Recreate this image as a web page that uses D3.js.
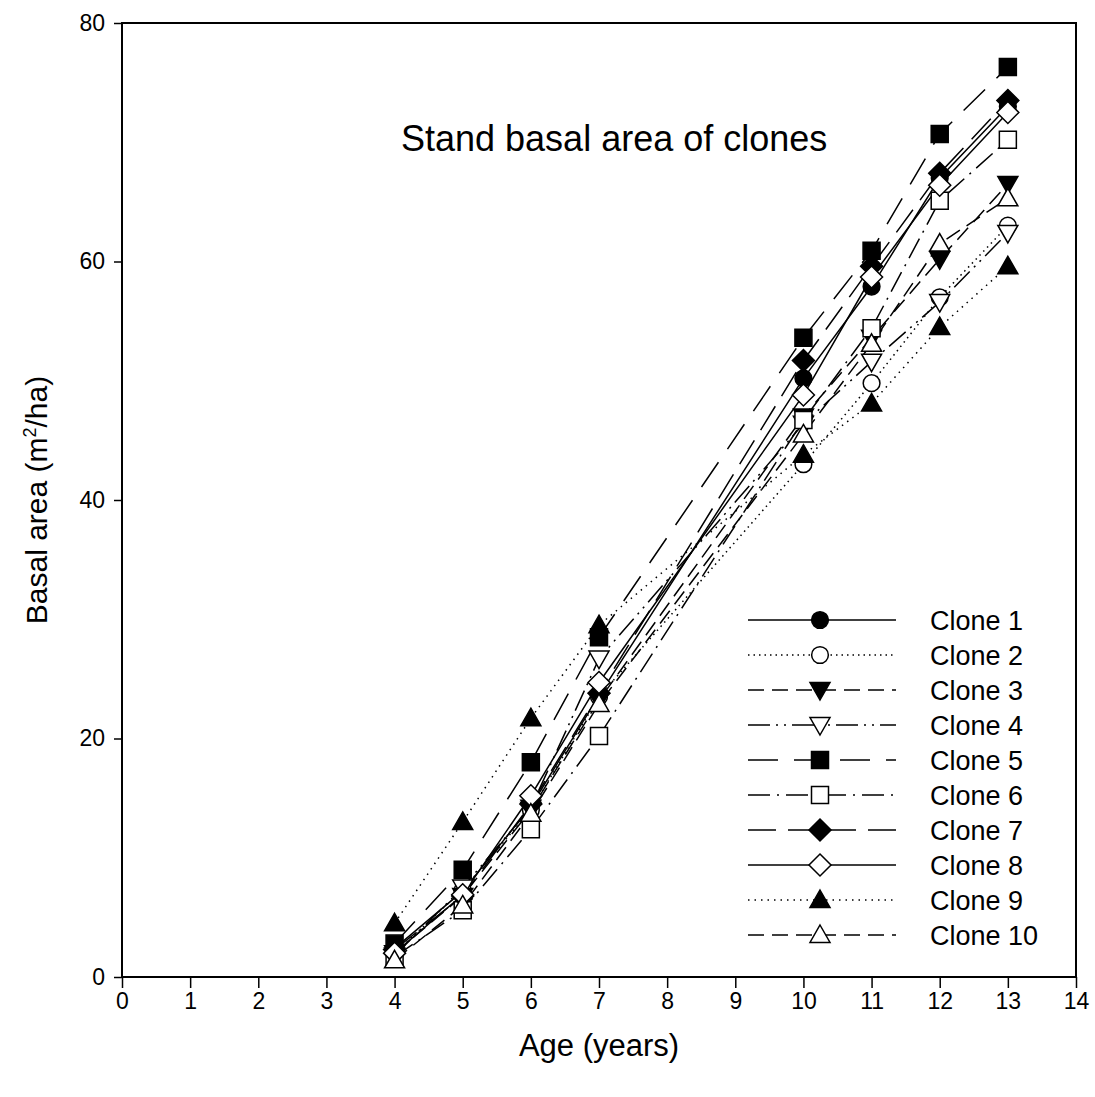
<!DOCTYPE html>
<html>
<head>
<meta charset="utf-8">
<script src="https://cdn.jsdelivr.net/npm/d3@7"></script>
<style>
  body { margin: 0; background: #fff; }
  text { font-family: Arial, "Liberation Sans", sans-serif; fill: #000; }
</style>
</head>
<body>
<div id="container"></div>
<script>
// Data
const ages = [4, 5, 6, 7, 10, 11, 12, 13];
const clone1  = [2.4, 7.2, 14.3, 23.6, 50.2, 57.9, 67.0, 73.0];
const clone2  = [2.0, 7.3, 14.0, 23.5, 43.0, 49.8, 57.0, 63.0];
const clone3  = [2.0, 6.8, 14.0, 23.2, 47.0, 53.6, 60.2, 66.5];
const clone4  = [1.8, 7.5, 14.2, 26.7, 46.4, 51.6, 56.6, 62.4];
const clone5  = [2.8, 9.0, 18.0, 28.5, 53.6, 60.9, 70.7, 76.3];
const clone6  = [1.7, 5.6, 12.4, 20.2, 46.7, 54.4, 65.1, 70.2];
const clone7  = [2.3, 6.8, 14.5, 23.8, 51.7, 59.6, 67.4, 73.5];
const clone8  = [2.0, 6.9, 15.2, 24.7, 48.8, 58.7, 66.4, 72.5];
const clone9  = [4.5, 13.0, 21.7, 29.5, 43.8, 48.1, 54.5, 59.6];
const clone10 = [1.4, 6.0, 13.7, 22.9, 45.5, 53.1, 61.5, 65.3];
const cloneNames = ["Clone 1", "Clone 2", "Clone 3", "Clone 4", "Clone 5",
                    "Clone 6", "Clone 7", "Clone 8", "Clone 9", "Clone 10"];
const xTicks = d3.range(0, 15);
const yTicks = [0, 20, 40, 60, 80];

// Styling per clone: marker shape, fill, dash
const styles = [
    {shape: "circle",  fill: "#000", dash: null},
    {shape: "circle",  fill: "#fff", dash: "1.5,4"},
    {shape: "tridown", fill: "#000", dash: "16,8"},
    {shape: "tridown", fill: "#fff", dash: "22,6,2,6,2,6"},
    {shape: "square",  fill: "#000", dash: "30,16"},
    {shape: "square",  fill: "#fff", dash: "22,7,2,7"},
    {shape: "diamond", fill: "#000", dash: "28,12"},
    {shape: "diamond", fill: "#fff", dash: null},
    {shape: "triup",   fill: "#000", dash: "1.5,5"},
    {shape: "triup",   fill: "#fff", dash: "16,8"}
];

const series = [clone1, clone2, clone3, clone4, clone5, clone6, clone7, clone8, clone9, clone10]
    .map((vals, i) => ({name: cloneNames[i], style: styles[i],
                        points: vals.map((v, j) => ({age: ages[j], ba: v}))}));

const width = 1095, height = 1097;
const margin = {top: 23, right: 19, bottom: 120, left: 122};

const svg = d3.select("#container").append("svg")
    .attr("width", width)
    .attr("height", height);

const x = d3.scaleLinear().domain([0, 14]).range([margin.left, width - margin.right]);
const y = d3.scaleLinear().domain([0, 80]).range([height - margin.bottom, margin.top]);

// marker path generator
function markerPath(shape) {
    switch (shape) {
        case "circle":  return d3.symbol(d3.symbolCircle, 220)();
        case "square":  return "M-8.5,-8.5H8.5V8.5H-8.5Z";
        case "diamond": return "M0,-11L11,0L0,11L-11,0Z";
        case "triup":   return "M0,-10L10,7.5L-10,7.5Z";
        case "tridown": return "M0,10L10,-7.5L-10,-7.5Z";
    }
}

// frame
svg.append("rect")
    .attr("x", x(0)).attr("y", y(80))
    .attr("width", x(14) - x(0)).attr("height", y(0) - y(80))
    .attr("fill", "none").attr("stroke", "#000").attr("stroke-width", 2);

// X axis
const xAxis = svg.append("g")
    .attr("transform", `translate(0,${y(0)})`)
    .call(d3.axisBottom(x).tickValues(xTicks).tickSize(11).tickPadding(5).tickFormat(d3.format("d")));
xAxis.select(".domain").remove();
xAxis.selectAll("line").attr("stroke-width", 1.5);
xAxis.selectAll("text").style("font-size", "23px").style("font-family", "Arial");

// Y axis
const yAxis = svg.append("g")
    .attr("transform", `translate(${x(0)},0)`)
    .call(d3.axisLeft(y).tickValues(yTicks).tickSize(8).tickPadding(9));
yAxis.select(".domain").remove();
yAxis.selectAll("line").attr("stroke-width", 1.5);
yAxis.selectAll("text").style("font-size", "23px").style("font-family", "Arial");

// Axis titles
svg.append("text")
    .attr("x", (x(0) + x(14)) / 2)
    .attr("y", 1056)
    .attr("text-anchor", "middle")
    .style("font-size", "31px")
    .text("Age (years)");

const yt = svg.append("text")
    .attr("transform", `translate(47,${(y(0) + y(80)) / 2}) rotate(-90)`)
    .attr("text-anchor", "middle")
    .style("font-size", "30px");
yt.append("tspan").text("Basal area (m");
yt.append("tspan").attr("dy", -11).style("font-size", "18px").text("2");
yt.append("tspan").attr("dy", 11).text("/ha)");

// Chart title
svg.append("text")
    .attr("x", 401)
    .attr("y", 151)
    .style("font-size", "36px")
    .text("Stand basal area of clones");

// Lines
const line = d3.line().x(d => x(d.age)).y(d => y(d.ba));

svg.selectAll(".series-line")
    .data(series)
    .enter().append("path")
    .attr("class", "series-line")
    .attr("d", d => line(d.points))
    .attr("fill", "none")
    .attr("stroke", "#000")
    .attr("stroke-width", 1.5)
    .attr("stroke-dasharray", d => d.style.dash);

// Markers
series.forEach(s => {
    svg.append("g").selectAll("path")
        .data(s.points)
        .enter().append("path")
        .attr("transform", d => `translate(${x(d.age)},${y(d.ba)})`)
        .attr("d", markerPath(s.style.shape))
        .attr("fill", s.style.fill)
        .attr("stroke", "#000")
        .attr("stroke-width", 1.5);
});

// Legend
const legend = svg.selectAll(".legend")
    .data(series)
    .enter().append("g")
    .attr("class", "legend")
    .attr("transform", (d, i) => `translate(748,${620 + i * 35})`);

legend.append("line")
    .attr("x1", 0).attr("x2", 148)
    .attr("stroke", "#000")
    .attr("stroke-width", 1.5)
    .attr("stroke-dasharray", d => d.style.dash);

legend.append("path")
    .attr("transform", "translate(72,0)")
    .attr("d", d => markerPath(d.style.shape))
    .attr("fill", d => d.style.fill)
    .attr("stroke", "#000")
    .attr("stroke-width", 1.5);

legend.append("text")
    .attr("x", 182)
    .attr("dy", "0.36em")
    .style("font-size", "27px")
    .text(d => d.name);
</script>
</body>
</html>
